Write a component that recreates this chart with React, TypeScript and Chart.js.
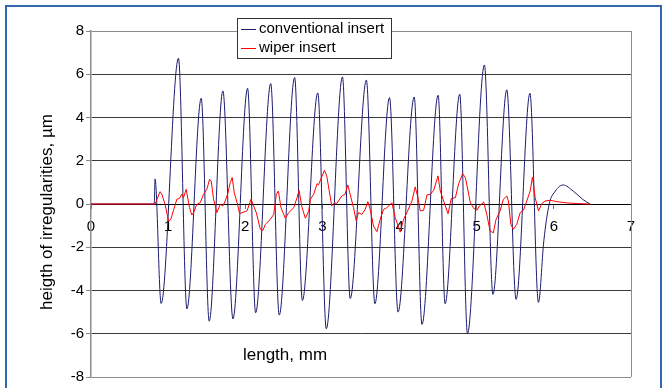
import React, { useEffect, useRef } from "react";
import { Chart, registerables } from "chart.js";

Chart.register(...registerables);

// ---- data ----
const seriesNames = ["conventional insert", "wiper insert"];
const xAxisTitle = "length, mm";
const yAxisTitle = "heigth of irregularities, µm";
const xMin = 0;
const xMax = 7;
const xStep = 1;
const yMin = -8;
const yMax = 8;
const yStep = 2;

// conventional insert (length mm, height µm)
const convX = [
  0, 0.82, 0.83, 0.909, 1.134, 1.243, 1.429, 1.532, 1.71, 1.84, 2.03, 2.134, 2.33, 2.44, 2.64, 2.74,
  2.94, 3.05, 3.26, 3.36, 3.57, 3.68, 3.87, 3.98, 4.19, 4.29, 4.5, 4.59, 4.78, 4.88, 5.1, 5.21, 5.39,
  5.51, 5.69, 5.8, 5.87, 5.94, 6.02, 6.12, 6.25, 6.38, 6.47,
];
const convY = [
  0, 0, 1.16, -4.6, 6.74, -4.85, 4.89, -5.42, 5.23, -5.31, 5.35, -5.03, 5.57, -5.14, 5.85, -4.46,
  5.14, -5.77, 5.88, -4.37, 5.73, -4.61, 4.92, -5.0, 4.95, -5.57, 5.03, -4.61, 5.08, -5.99, 6.43, -4.18, 5.28,
  -4.41, 5.12, -4.55, -1.7, 0, 0.6, 0.88, 0.6, 0.2, 0,
];

// wiper insert (length mm, height µm)
const wiperX = [
  0, 0.831, 0.896, 0.918, 0.961, 1.005, 1.035, 1.069, 1.113, 1.147, 1.177, 1.199, 1.234, 1.277, 1.307,
  1.329, 1.372, 1.416, 1.459, 1.502, 1.537, 1.558, 1.589, 1.632, 1.675, 1.71, 1.74, 1.771, 1.805, 1.831,
  1.857, 1.9, 1.926, 1.957, 2.022, 2.052, 2.074, 2.1, 2.143, 2.195, 2.229, 2.26, 2.325, 2.368, 2.403,
  2.429, 2.463, 2.519, 2.563, 2.628, 2.671, 2.697, 2.736, 2.779, 2.823, 2.844, 2.887, 2.931, 2.948,
  3.026, 3.056, 3.121, 3.156, 3.186, 3.251, 3.294, 3.329, 3.359, 3.403, 3.437, 3.468, 3.511, 3.554,
  3.589, 3.619, 3.662, 3.706, 3.749, 3.792, 3.835, 3.879, 3.9, 3.944, 4.009, 4.052, 4.095, 4.16, 4.203,
  4.238, 4.268, 4.312, 4.355, 4.398, 4.442, 4.498, 4.528, 4.571, 4.628, 4.671, 4.723, 4.766, 4.818,
  4.853, 4.918, 4.961, 5.004, 5.035, 5.091, 5.132, 5.173, 5.216, 5.251, 5.303, 5.346, 5.39, 5.411,
  5.442, 5.476, 5.519, 5.563, 5.606, 5.649, 5.693, 5.723, 5.758, 5.801, 5.844, 5.887, 5.952, 6.039,
  6.169, 6.299, 6.472,
];
const wiperY = [
  0, 0, 0.57, 0.45, -0.02, -0.79, -0.71, -0.29, 0.22, 0.26, 0.45, 0.29, 0.68, -0.17, -0.51,
  -0.4, -0.02, 0.06, 0.45, 0.68, 1.14, 1.06, 0.22, -0.4, -0.02, -0.09, 0.14, 0.45, 0.99, 1.22,
  0.52, -0.02, -0.45, -0.4, -0.32, -0.02, 0.22, -0.02, -0.4, -1.17, -1.22, -0.94, -0.71, -0.48, 0.45,
  0.6, -0.17, -0.66, -0.4, -0.17, 0.29, 0.63, -0.17, -0.66, -0.32, 0.22, 0.45, 0.94, 0.88,
  1.56, 1.3, -0.09, 0.06, 0.02, 0.37, 0.45, 0.88, 0.45, -0.17, -0.76, -0.4, -0.48, -0.25,
  0.11, -0.25, -1.02, -1.28, -0.71, -0.25, -0.17, -0.02, 0.06, -0.63, -1.3, -0.71, -0.4, 0.14, 0.79,
  0.29, -0.32, -0.29, 0.42, 0.45, 0.63, 1.3, 0.6, 0.14, -0.45, 0.26, 0.29, 0.94, 1.4,
  1.22, 0.06, -0.2, -0.29, -0.09, 0.09, -0.5, -1.25, -1.33, -0.71, -0.32, 0.22, 0.37, 0.14,
  -0.94, -1.17, -0.94, -0.4, -0.29, 0.14, 0.6, 1.25, 0.29, -0.32, 0.02, 0.14, 0.17, 0.11,
  0.05, 0.02, 0,
];

const FONT = '"Liberation Sans", Arial, sans-serif';
const convColor = "#1c1c70";
const wiperColor = "#ff0000";

const overlay = {
  id: "overlay",
  afterDraw(chart: any) {
    const { ctx, chartArea } = chart;
    ctx.save();
    // right plot border
    ctx.strokeStyle = "#8c8c8c";
    ctx.lineWidth = 1;
    const rx = Math.round(chartArea.right) + 0.5;
    ctx.beginPath();
    ctx.moveTo(rx, chartArea.top);
    ctx.lineTo(rx, chartArea.bottom);
    ctx.stroke();

    // x title (inside plot)
    ctx.fillStyle = "#000";
    ctx.font = `17px ${FONT}`;
    ctx.textAlign = "center";
    ctx.textBaseline = "middle";
    ctx.fillText(xAxisTitle, 285, 355);

    // y title
    ctx.save();
    ctx.translate(47, 212);
    ctx.rotate(-Math.PI / 2);
    ctx.fillText(yAxisTitle, 0, 0);
    ctx.restore();

    // legend box
    const lx = 237.5, ly = 18.5, lw = 154, lh = 40;
    ctx.fillStyle = "#fff";
    ctx.fillRect(lx, ly, lw, lh);
    ctx.strokeStyle = "#333";
    ctx.lineWidth = 1;
    ctx.strokeRect(lx, ly, lw, lh);
    ctx.font = `15px ${FONT}`;
    ctx.textAlign = "left";
    const colors = [convColor, wiperColor];
    const rows = [29, 48];
    seriesNames.forEach((name, i) => {
      ctx.strokeStyle = colors[i];
      ctx.beginPath();
      ctx.moveTo(241, rows[i] + 0.5);
      ctx.lineTo(256, rows[i] + 0.5);
      ctx.stroke();
      ctx.fillStyle = "#000";
      ctx.fillText(name, 259, rows[i]);
    });
    ctx.restore();
  },
};

export default function App() {
  const ref = useRef<HTMLCanvasElement | null>(null);

  useEffect(() => {
    if (!ref.current) return;
    const conv = convX.map((x, i) => ({ x, y: convY[i] }));
    const wiper = wiperX.map((x, i) => ({ x, y: wiperY[i] }));
    const chart = new Chart(ref.current, {
      type: "line",
      data: {
        datasets: [
          {
            label: seriesNames[0],
            data: conv,
            borderColor: convColor,
            borderWidth: 1,
            pointRadius: 0,
            cubicInterpolationMode: "monotone",
            order: 2,
          },
          {
            label: seriesNames[1],
            data: wiper,
            borderColor: wiperColor,
            borderWidth: 1,
            pointRadius: 0,
            tension: 0,
            order: 1,
          },
        ],
      },
      options: {
        animation: false,
        responsive: false,
        maintainAspectRatio: false,
        parsing: true,
        layout: { padding: { left: 0, top: 31, right: 36, bottom: 11 } },
        plugins: {
          legend: { display: false },
          tooltip: { enabled: false },
        },
        scales: {
          x: {
            type: "linear",
            position: { y: 0 } as any,
            min: xMin,
            max: xMax,
            ticks: {
              stepSize: xStep,
              color: "#000",
              font: { family: FONT, size: 15 },
              padding: 10,
              maxRotation: 0,
            },
            grid: {
              drawOnChartArea: false,
              drawTicks: true,
              tickLength: 4,
              tickColor: "#777",
            },
            border: { color: "#000", width: 1 },
          },
          y: {
            type: "linear",
            min: yMin,
            max: yMax,
            afterFit: (scale: any) => {
              scale.width = 91;
            },
            ticks: {
              stepSize: yStep,
              color: "#000",
              font: { family: FONT, size: 15 },
              padding: 2,
            },
            grid: {
              color: (c: any) =>
                c.tick && (c.tick.value === yMax || c.tick.value === yMin) ? "#8c8c8c" : "#3a3a3a",
              tickColor: "#888",
              tickLength: 5,
              lineWidth: 1,
            },
            border: { color: "#8c8c8c", width: 1.5 },
          },
        },
      },
      plugins: [overlay],
    });
    return () => chart.destroy();
  }, []);

  return (
    <div style={{ position: "fixed", left: 0, top: 0, width: 667, height: 388, background: "#fff", overflow: "hidden" }}>
      <canvas ref={ref} width={667} height={388} style={{ position: "absolute", left: 0, top: 0 }} />
      <div
        style={{
          position: "absolute",
          left: 5,
          top: 5,
          width: 653,
          height: 420,
          border: "2px solid #3567ad",
          pointerEvents: "none",
        }}
      />
    </div>
  );
}
